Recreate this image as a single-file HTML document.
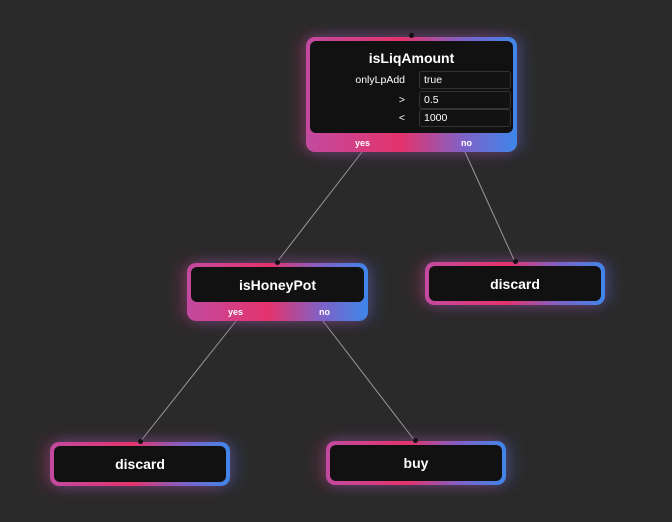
<!DOCTYPE html>
<html><head><style>
body{margin:0;width:672px;height:522px;background:#2b2a2a;position:relative;overflow:hidden;font-family:"Liberation Sans",sans-serif;color:#fff}
.n{position:absolute;border-radius:9px;padding:4px;box-sizing:border-box;
background:linear-gradient(90deg,#c24aa0 0%,#e4336c 45%,#7d63c8 75%,#3f86ea 100%);
box-shadow:-6px 0 16px rgba(220,60,120,.3),6px 0 16px rgba(70,120,230,.3),0 0 12px rgba(160,80,160,.2)}
.in{background:#111;border-radius:6px;height:100%;box-sizing:border-box;display:flex;align-items:center;justify-content:center;font-weight:bold;font-size:14px}
.ft{position:absolute;left:0;right:0;bottom:0;height:19px;font-size:9px;font-weight:bold}
.ft span{position:absolute;top:5px}
.f{position:absolute;left:109px;width:92px;height:18px;border:1px solid #333;border-radius:3px;background:#121212;font-size:10.5px;font-weight:normal;line-height:16px;padding-left:4px;box-sizing:border-box}
.l{position:absolute;font-size:10.5px;font-weight:normal;text-align:right;width:95px;left:0}
.dot{position:absolute;width:5px;height:5px;border-radius:50%;background:#111}
</style></head><body>
<svg width="672" height="522" style="position:absolute;left:0;top:0">
<g stroke="#9a9a9a" stroke-width="1">
<line x1="362" y1="152" x2="277" y2="262"/>
<line x1="465" y1="152" x2="515" y2="262"/>
<line x1="236" y1="321" x2="140" y2="442"/>
<line x1="323" y1="321" x2="415" y2="441"/>
</g></svg>
<div class="n" style="left:306px;top:37px;width:211px;height:115px">
 <div class="in" style="display:block;position:relative;height:92px">
  <div style="text-align:center;padding-top:9px;font-size:14px">isLiqAmount</div>
  <div class="l" style="top:33px;left:0;width:95px">onlyLpAdd</div>
  <div class="f" style="top:30px">true</div>
  <div class="l" style="top:53px">&gt;</div>
  <div class="f" style="top:50px">0.5</div>
  <div class="l" style="top:71px">&lt;</div>
  <div class="f" style="top:68px">1000</div>
 </div>
 <div class="ft"><span style="left:49px">yes</span><span style="left:155px">no</span></div>
</div>
<div class="dot" style="left:409px;top:33px"></div>
<div class="n" style="left:187px;top:263px;width:181px;height:58px">
 <div class="in" style="height:35px">isHoneyPot</div>
 <div class="ft"><span style="left:41px">yes</span><span style="left:132px">no</span></div>
</div>
<div class="n" style="left:425px;top:262px;width:180px;height:43px"><div class="in">discard</div></div>
<div class="n" style="left:50px;top:442px;width:180px;height:44px"><div class="in">discard</div></div>
<div class="n" style="left:326px;top:441px;width:180px;height:44px"><div class="in">buy</div></div>
<div class="dot" style="left:275px;top:260px"></div>
<div class="dot" style="left:513px;top:259px"></div>
<div class="dot" style="left:138px;top:439px"></div>
<div class="dot" style="left:413px;top:438px"></div>
</body></html>
